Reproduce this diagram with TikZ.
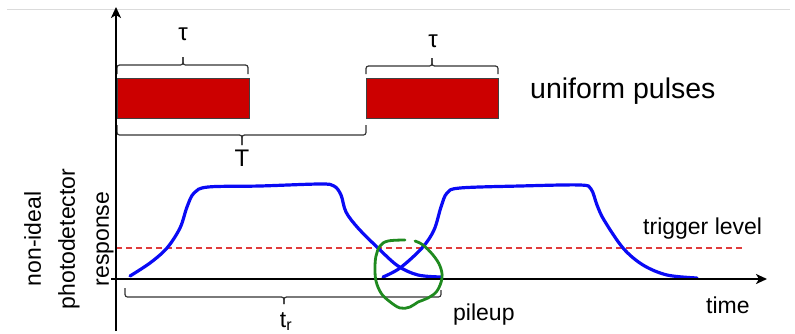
\documentclass[tikz,border=0pt]{standalone}
\usepackage{fontspec}
\setmainfont{Liberation Sans}
\usetikzlibrary{arrows.meta}
\definecolor{pulsered}{HTML}{CC0000}
\definecolor{tracered}{HTML}{E03C3C}
\definecolor{inkgreen}{HTML}{1F8A1F}
\definecolor{respblue}{HTML}{0A0AF5}
\tikzset{
  axisline/.style={line width=2.8pt, -{Stealth[length=11pt,width=10pt,inset=3pt]}},
  pulsebox/.style={draw=black!75, line width=0.8pt, fill=pulsered, minimum width=132pt, minimum height=40pt, inner sep=0pt, anchor=north west},
  bracket/.style={draw=black!80, line width=1.2pt, rounded corners=2.5pt},
  response/.style={draw=respblue, line width=3.2pt, line cap=round, line join=round},
  triggerline/.style={draw=tracered, line width=1.3pt, dash pattern=on 6pt off 4pt},
  lbl/.style={inner sep=0pt, font=\fontsize{23}{27}\selectfont},
}
\begin{document}
\begin{tikzpicture}[x=1pt, y=-1pt]
\useasboundingbox (0,0) rectangle (795,333);

% faint rule along the top
\draw[black!14, line width=0.9pt] (7,9) -- (790,9);

% pulse train
\node[pulsebox] (p1) at (117,78) {};
\node[pulsebox] (p2) at (366,78) {};
\node[inner sep=0pt, anchor=base west, font=\fontsize{28.5}{32}\selectfont] (uni) at (530,98) {uniform pulses};

% pulse width braces
\coordinate (b1l) at (117,74);  \coordinate (b1r) at (248,74);
\draw[bracket] (b1l) |- (183,65) -- (183,57);
\draw[bracket] (b1r) |- (183,65) -- (183,57);
\node[lbl, font=\fontsize{24}{28}\selectfont] (tau1) at (183,34) {τ};

\coordinate (b2l) at (366,74);  \coordinate (b2r) at (498,74);
\draw[bracket] (b2l) |- (432,66) -- (432,58);
\draw[bracket] (b2r) |- (432,66) -- (432,58);
\node[lbl, font=\fontsize{24}{28}\selectfont] (tau2) at (433,41) {τ};

% period brace
\coordinate (bTl) at (117,125);  \coordinate (bTr) at (366,125);
\draw[bracket] (bTl) |- (242,135) -- (242,145);
\draw[bracket] (bTr) |- (242,135) -- (242,145);
\node[lbl, font=\fontsize{24}{28}\selectfont] (Tlab) at (242,158) {T};

% trigger threshold
\draw[triggerline] (116,248) -- (743,248);
\node[lbl, anchor=base west] (trig) at (643,234) {trigger level};

% detector responses
\draw[response] plot[smooth, tension=0.55] coordinates {
  (130,276) (150,263) (167,248) (180,228) (187,207) (194,193) (208,187)
  (260,186) (320,184) (334,186) (341,195) (346,212) (358,228) (378,248)
  (398,266) (418,275) (441,277)};
\draw[response] plot[smooth, tension=0.55] coordinates {
  (383,277) (400,268) (422,248) (434,230) (441,207) (447,193) (460,188)
  (520,186) (580,185) (591,189) (597,205) (604,220) (623,248) (643,265)
  (667,275) (697,278)};

% axes
\draw[axisline] (116,331) -- (116,7);
\draw[axisline] (111,279) -- (767,279);
\node[lbl, anchor=base west] (time) at (706,313) {time};

% rise-time brace
\coordinate (brl) at (125,288);  \coordinate (brr) at (441,290);
\draw[bracket] (brl) |- (284,297) -- (284,304);
\draw[bracket] (brr) |- (284,297) -- (284,304);
\node[lbl, anchor=base] (trlab) at (286,327) {t\textsubscript{r}};

% pileup marker
\draw[inkgreen, line width=2.8pt, line cap=round] plot[smooth, tension=0.6] coordinates {
  (405,240) (388,241) (380,246) (376,256) (375,268) (376,281) (381,293)
  (389,301) (400,308) (410,307) (418,302) (428,298) (437,291) (442,278)
  (440,266) (433,255) (423,245) (415,241)};
\node[lbl, anchor=base west] (pile) at (453,320) {pileup};

% axis title
\node[lbl, rotate=90, align=center, font=\fontsize{23}{34}\selectfont] (ylab) at (69,239)
  {non-ideal\\photodetector\\response};
\end{tikzpicture}
\end{document}
